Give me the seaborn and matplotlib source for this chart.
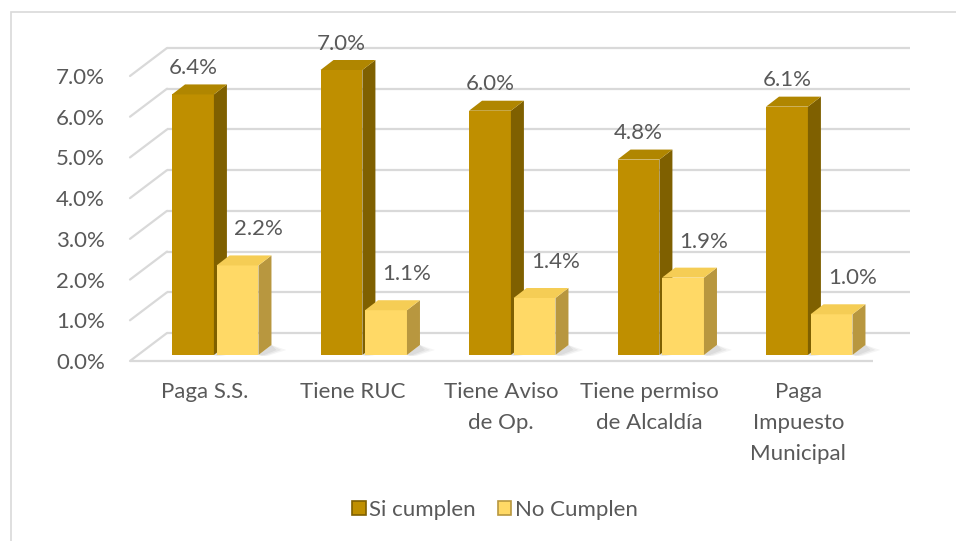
import matplotlib
matplotlib.use("Agg")
import matplotlib.pyplot as plt
from matplotlib.patches import Polygon, Rectangle, Patch
import seaborn as sns
import pandas as pd

categories = ["Paga S.S.", "Tiene RUC", "Tiene Aviso\nde Op.", "Tiene permiso\nde Alcaldía", "Paga\nImpuesto\nMunicipal"]
series = ["Si cumplen", "No Cumplen"]
si_values = [6.4, 7.0, 6.0, 4.8, 6.1]
no_values = [2.2, 1.1, 1.4, 1.9, 1.0]
yticks = [0, 1, 2, 3, 4, 5, 6, 7]

front = {"Si cumplen": "#BF8F00", "No Cumplen": "#FFD966"}
side = {"Si cumplen": "#7F6000", "No Cumplen": "#B8973F"}
top = {"Si cumplen": "#B08600", "No Cumplen": "#F5CD55"}
text_c = "#595959"
grid_c = "#D9D9D9"

sns.set_style("white")
plt.rcParams["font.family"] = ["Lato", "DejaVu Sans"]

df = pd.DataFrame({
    "cat": categories * 2,
    "serie": [series[0]] * 5 + [series[1]] * 5,
    "val": si_values + no_values,
})

W, H = 956, 541
fig = plt.figure(figsize=(W / 100, H / 100), dpi=100)
ax_l, ax_r, ax_b, ax_t = 130, 872.5, 361, 76
ax = fig.add_axes([ax_l / W, 1 - ax_b / H, (ax_r - ax_l) / W, (ax_b - ax_t) / H])

sns.barplot(data=df, x="cat", y="val", hue="serie", palette=[front[s] for s in series],
            width=0.6, gap=0.06, saturation=1, legend=False, ax=ax, linewidth=0)
ax.set_xlim(-0.5, 4.5)
ax.set_ylim(0, 7)

pxx = (ax_r - ax_l) / 5.0
pxy = (ax_b - ax_t) / 7.0
# depth geometry (pixels)
wall_dx, wall_dy = 37 / pxx, 28 / pxy
fx, fy = 11 / pxx, 6 / pxy
ddx, ddy = 13 / pxx, 10 / pxy
fs = 16

# walls / grid
for v in yticks:
    ax.plot([-0.5 + wall_dx, 4.5 + wall_dx], [v + wall_dy, v + wall_dy], color=grid_c, lw=1.6,
            clip_on=False, zorder=0.5, solid_capstyle="butt")
    ax.plot([-0.5, -0.5 + wall_dx], [v, v + wall_dy], color=grid_c, lw=1.6, clip_on=False, zorder=0.5)
ax.plot([-0.5, 4.5], [0, 0], color=grid_c, lw=1.6, clip_on=False, zorder=0.5, solid_capstyle="butt")

bars = list(ax.patches)
vals = si_values + no_values
for i, p in enumerate(bars):
    s = series[0] if i < 5 else series[1]
    z = 3 if i < 5 else 4
    x0 = p.get_x() + fx
    w = p.get_width()
    h = p.get_height()
    p.set_x(x0)
    p.set_y(fy)
    p.set_zorder(z)
    p.set_clip_on(False)
    x1 = x0 + w
    y0 = fy
    y1 = fy + h
    # soft floor shadow
    for k, a in enumerate([0.05, 0.05, 0.04]):
        e = (k + 1) * 5 / pxx
        ax.add_patch(Polygon([(x1, y0), (x1 + ddx, y0 + ddy), (x1 + ddx + e, y0 + ddy * 0.5),
                              (x1 + e * 0.6, y0 - 1 / pxy)], closed=True, facecolor="#000000",
                             alpha=a, lw=0, zorder=2, clip_on=False))
    ax.add_patch(Polygon([(x1, y0), (x1 + ddx, y0 + ddy), (x1 + ddx, y1 + ddy), (x1, y1)],
                         closed=True, facecolor=side[s], lw=0, zorder=z, clip_on=False))
    ax.add_patch(Polygon([(x0, y1), (x0 + ddx, y1 + ddy), (x1 + ddx, y1 + ddy), (x1, y1)],
                         closed=True, facecolor=top[s], lw=0, zorder=z, clip_on=False))
    cx = x0 + w / 2
    if i < 5:
        ax.text(cx, y1 + 26.5 / pxy, f"{vals[i]:.1f}%", ha="center", va="center",
                fontsize=fs, color=text_c, zorder=6)
    else:
        ax.text(cx + 21 / pxx, y1 + 36 / pxy, f"{vals[i]:.1f}%", ha="center", va="center",
                fontsize=fs, color=text_c, zorder=6)

ax.set_yticks(yticks)
ax.set_yticklabels([f"{v:.1f}%" for v in yticks])
ax.set_xlabel("")
ax.set_ylabel("")
ax.tick_params(axis="both", length=0, colors=text_c, labelsize=fs)
ax.tick_params(axis="y", pad=18)
ax.tick_params(axis="x", pad=15)
for lab in ax.get_xticklabels():
    lab.set_linespacing(1.7)
for sp in ax.spines.values():
    sp.set_visible(False)
ax.grid(False)
ax.set_facecolor("none")

handles = [Patch(facecolor=front[s], edgecolor=side[s], linewidth=1.2) for s in series]
fig.legend(handles, series, loc="center", bbox_to_anchor=(495 / W, 1 - 510 / H), ncol=2, frameon=False,
           fontsize=fs, labelcolor=text_c, handlelength=0.6, handleheight=0.6,
           handletextpad=0.15, columnspacing=1.0)

fig.patches.append(Rectangle((11 / W, -0.1), 1.2, 1.1 - 12 / H, transform=fig.transFigure,
                             fill=False, edgecolor=grid_c, lw=1.2))

fig.savefig("out.png", dpi=100)
